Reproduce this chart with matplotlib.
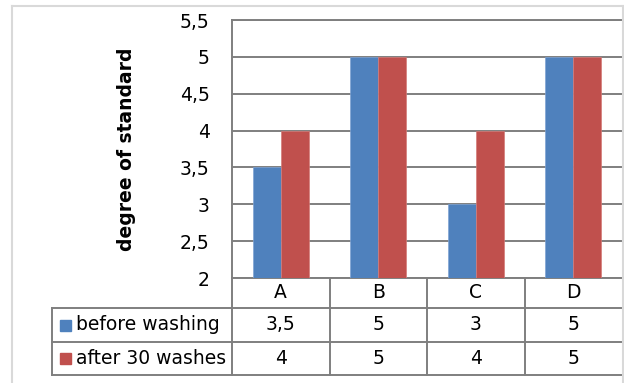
import matplotlib
matplotlib.use('Agg')
import numpy as np
import matplotlib.pyplot as plt
from matplotlib.patches import Rectangle
from matplotlib.lines import Line2D
from matplotlib.ticker import FuncFormatter, MultipleLocator
import matplotlib.transforms as mtransforms

categories = ['A', 'B', 'C', 'D']
series_names = ['before washing', 'after 30 washes']
before_washing = [3.5, 5, 3, 5]
after_30_washes = [4, 5, 4, 5]
y_label = 'degree of standard'
y_min, y_max, y_step = 2, 5.5, 0.5

plt.rcParams['font.family'] = ['DejaVu Sans']
FS = 13.5
GRID = '#7f7f7f'
BLUE = '#4f81bd'
RED = '#c0504d'

W, H = 624, 383
fig = plt.figure(figsize=(W / 100, H / 100), dpi=100)


def fx(px):
    return px / W


def fy(py):
    return 1 - py / H


def comma(v):
    return f'{v:g}'.replace('.', ',')


# plot area
left_px, right_px, top_px, bottom_px = 232, 622, 20, 278
ax = fig.add_axes([fx(left_px), fy(bottom_px),
                   fx(right_px) - fx(left_px), fy(top_px) - fy(bottom_px)])

x = np.arange(len(categories))
bw = 0.287
ax.bar(x - bw / 2, before_washing, bw, color=BLUE, zorder=3,
       edgecolor='#7ea3d3', linewidth=0.5)
ax.bar(x + bw / 2, after_30_washes, bw, color=RED, zorder=3,
       edgecolor='#d47b78', linewidth=0.5)

ax.set_xlim(-0.5, len(categories) - 0.5)
ax.set_ylim(y_min, y_max)
ax.yaxis.set_major_locator(MultipleLocator(y_step))
ax.yaxis.set_major_formatter(FuncFormatter(lambda v, p: comma(v)))
ax.set_xticks([])
ax.tick_params(axis='y', length=0, pad=16, labelsize=FS)
ax.grid(axis='y', color=GRID, linewidth=1.4, zorder=0)
for side in ('left', 'top', 'bottom'):
    ax.spines[side].set_color(GRID)
    ax.spines[side].set_linewidth(1.4)
ax.spines['right'].set_visible(False)

fig.text(fx(126), fy(149), y_label, rotation=90, ha='center', va='center',
         fontsize=FS, fontweight='bold')

# data table below the plot
axw = right_px - left_px
axh = bottom_px - top_px
rows_px = [278, 308, 342, 375]
r = [-(p - bottom_px) / axh for p in rows_px]
tab_left = (52 - left_px) / axw
label_x = (76 - left_px) / axw
trans = mtransforms.blended_transform_factory(ax.transData, ax.transAxes)

line_kw = dict(color=GRID, linewidth=1.4, clip_on=False)
for b in np.arange(len(categories) + 1)[:-1] - 0.5:
    ax.add_line(Line2D([b, b], [r[0], r[3]], transform=trans, **line_kw))
ax.add_line(Line2D([tab_left, tab_left], [r[1], r[3]],
                   transform=ax.transAxes, **line_kw))
for yy in r[1:]:
    ax.add_line(Line2D([tab_left, 1], [yy, yy],
                       transform=ax.transAxes, **line_kw))

for i, c in enumerate(categories):
    ax.text(i, (r[0] + r[1]) / 2, c, transform=trans, ha='center',
            va='center', fontsize=FS)

series_vals = [before_washing, after_30_washes]
colors = [BLUE, RED]
for k, (name, vals, col) in enumerate(zip(series_names, series_vals, colors)):
    yc = (r[k + 1] + r[k + 2]) / 2
    for i, v in enumerate(vals):
        ax.text(i, yc, comma(v), transform=trans, ha='center', va='center',
                fontsize=FS)
    ax.text(label_x, yc, name, transform=ax.transAxes, ha='left',
            va='center', fontsize=FS)
    yc_px = (rows_px[k + 1] + rows_px[k + 2]) / 2
    fig.add_artist(Rectangle((fx(60), fy(yc_px + 5.5)), 11 / W, 11 / H,
                             transform=fig.transFigure, color=col))

# outer chart border
bc = '#d9d9d9'
fig.add_artist(Line2D([fx(12), fx(12)], [fy(6), fy(383)], color=bc, lw=1.5))
fig.add_artist(Line2D([fx(12), fx(623)], [fy(6), fy(6)], color=bc, lw=1.5))
fig.add_artist(Line2D([fx(623), fx(623)], [fy(6), fy(383)], color=bc, lw=1.5))

fig.savefig('out.png', dpi=100)
